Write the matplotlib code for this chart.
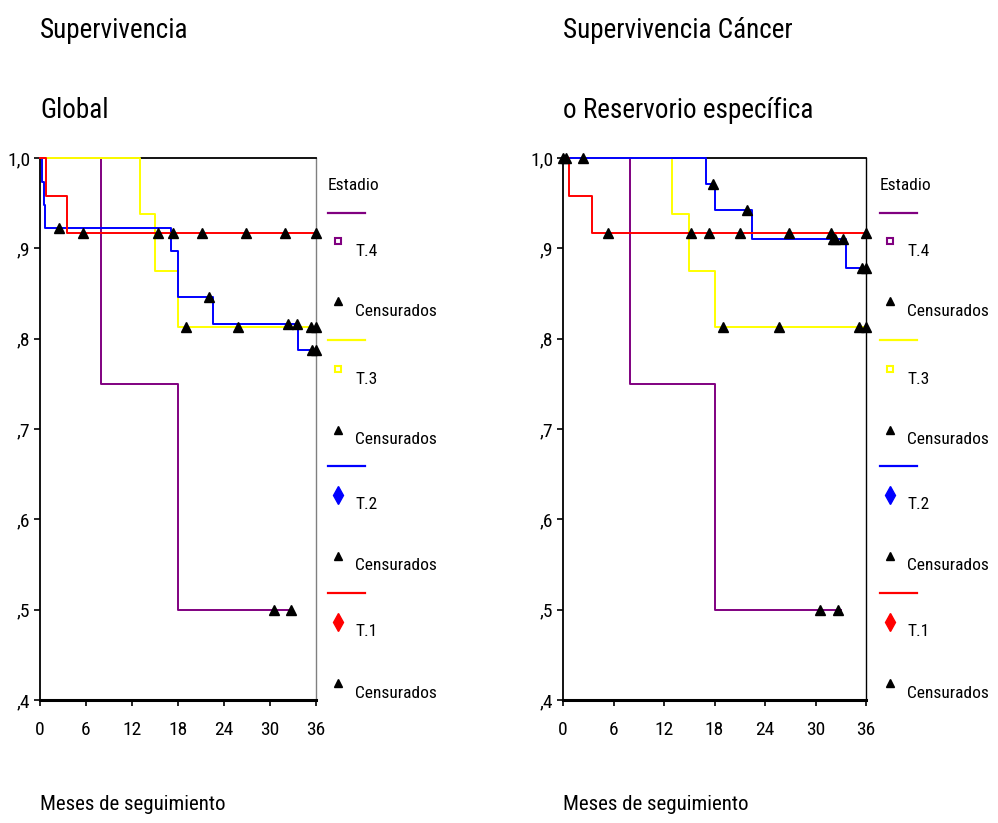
import matplotlib
matplotlib.use("Agg")
import matplotlib.pyplot as plt
import numpy as np
from matplotlib.lines import Line2D
from matplotlib import font_manager as fm

# pick a narrow/condensed sans font if one is installed
narrow_family, narrow_stretch = None, "normal"
for pref in ["Liberation Sans Narrow", "Arial Narrow", "Roboto Condensed", "Open Sans Condensed"]:
    if any(f.name == pref for f in fm.fontManager.ttflist):
        narrow_family = pref
        break
if narrow_family is None:
    for f in fm.fontManager.ttflist:
        if f.stretch in ("condensed", "semi-condensed") and f.name in ("DejaVu Sans", "Roboto", "Open Sans", "Noto Sans") \
                and f.style == "normal" and f.weight in (400, "normal", "regular"):
            narrow_family, narrow_stretch = f.name, f.stretch
            break

if narrow_family is not None:
    plt.rcParams['font.family'] = [narrow_family, 'Liberation Sans', 'DejaVu Sans']
    plt.rcParams['font.stretch'] = narrow_stretch
    FS_TITLE, FS_TICK, FS_LEG, FS_XLAB = 19.5, 14, 12.5, 15
else:
    plt.rcParams['font.family'] = ['Liberation Sans', 'DejaVu Sans']
    FS_TITLE, FS_TICK, FS_LEG, FS_XLAB = 16.5, 12.5, 11, 13

# ---------------- data ----------------
groups = ["T.4", "T.3", "T.2", "T.1"]
colors = {"T.4": "#800080", "T.3": "#FFFF00", "T.2": "#0000FF", "T.1": "#FF0000"}
legend_markers = {"T.4": "s", "T.3": "s", "T.2": "D", "T.1": "D"}

# Supervivencia Global
g_t4_time = [0, 8, 18, 33]
g_t4_surv = [1.0, 0.75, 0.5, 0.5]
g_t4_cens = [30.5, 32.7]
g_t3_time = [0, 13, 15, 18, 36]
g_t3_surv = [1.0, 0.9375, 0.875, 0.8125, 0.8125]
g_t3_cens = [19.1, 25.8, 35.3, 36]
g_t2_time = [0, 0.2, 0.55, 0.65, 17.1, 18.0, 22.5, 33.7, 36]
g_t2_surv = [1.0, 0.973, 0.948, 0.923, 0.897, 0.846, 0.816, 0.787, 0.787]
g_t2_cens = [2.5, 22.0, 32.3, 33.5, 35.5, 36]
g_t1_time = [0, 0.75, 3.5, 36]
g_t1_surv = [1.0, 0.958, 0.917, 0.917]
g_t1_cens = [5.6, 15.4, 17.3, 21.1, 26.9, 31.9, 36]

# Supervivencia Cancer especifica
c_t4_time = [0, 8, 18, 33]
c_t4_surv = [1.0, 0.75, 0.5, 0.5]
c_t4_cens = [30.5, 32.7]
c_t3_time = [0, 13, 15, 18, 36]
c_t3_surv = [1.0, 0.9375, 0.875, 0.8125, 0.8125]
c_t3_cens = [19.0, 25.7, 35.2, 36]
c_t2_time = [0, 17.0, 18.1, 22.4, 33.6, 36]
c_t2_surv = [1.0, 0.971, 0.942, 0.910, 0.878, 0.878]
c_t2_cens = [0.0, 0.4, 2.4, 17.8, 21.9, 32.1, 32.3, 33.3, 35.5, 36]
c_t1_time = [0, 0.75, 3.5, 36]
c_t1_surv = [1.0, 0.958, 0.917, 0.917]
c_t1_cens = [5.4, 15.2, 17.3, 21.0, 26.9, 31.8, 36]

x_ticks = [0, 6, 12, 18, 24, 30, 36]
y_ticks = [0.4, 0.5, 0.6, 0.7, 0.8, 0.9, 1.0]
y_ticklabels = [",4", ",5", ",6", ",7", ",8", ",9", "1,0"]

global_data = {
    "T.4": (g_t4_time, g_t4_surv, g_t4_cens),
    "T.3": (g_t3_time, g_t3_surv, g_t3_cens),
    "T.2": (g_t2_time, g_t2_surv, g_t2_cens),
    "T.1": (g_t1_time, g_t1_surv, g_t1_cens),
}
cancer_data = {
    "T.4": (c_t4_time, c_t4_surv, c_t4_cens),
    "T.3": (c_t3_time, c_t3_surv, c_t3_cens),
    "T.2": (c_t2_time, c_t2_surv, c_t2_cens),
    "T.1": (c_t1_time, c_t1_surv, c_t1_cens),
}

W, H = 998, 823
fig = plt.figure(figsize=(W / 100, H / 100), dpi=100)


def step_value(times, surv, t):
    idx = np.searchsorted(times, t, side="right") - 1
    return np.asarray(surv)[idx]


def draw_panel(left_px, right_px, data, title1, title2, right_spine_color):
    ax = fig.add_axes([left_px / W, 1 - 700 / H, (right_px - left_px) / W, 542 / H])
    for g in groups:
        t, s, c = data[g]
        ax.step(t, s, where="post", color=colors[g], lw=1.4, zorder=3, clip_on=False)
        cy = [step_value(t, s, ci) for ci in c]
        ax.plot(c, cy, linestyle="none", marker="^", color="black", markersize=7,
                zorder=4, clip_on=False)
    ax.set_xlim(0, 36)
    ax.set_ylim(0.4, 1.0)
    ax.set_xticks(x_ticks)
    ax.set_xticklabels([str(v) for v in x_ticks], fontsize=FS_TICK)
    ax.set_yticks(y_ticks)
    ax.set_yticklabels(y_ticklabels, fontsize=FS_TICK)
    ax.tick_params(axis="both", direction="out", length=4, width=1.2, colors="black")
    ax.tick_params(axis="x", pad=11)
    ax.tick_params(axis="y", pad=3)
    ax.spines["left"].set_linewidth(1.3)
    ax.spines["bottom"].set_linewidth(2.2)
    ax.spines["top"].set_linewidth(1.3)
    ax.spines["right"].set_linewidth(1.0)
    ax.spines["right"].set_color(right_spine_color)
    for sp in ax.spines.values():
        sp.set_zorder(1)
    fig.text(left_px / W, 1 - 30 / H, title1, fontsize=FS_TITLE, ha="left", va="center")
    fig.text(left_px / W, 1 - 110 / H, title2, fontsize=FS_TITLE, ha="left", va="center")
    fig.text(left_px / W, 1 - 805 / H, "Meses de seguimiento", fontsize=FS_XLAB, ha="left", va="center")
    return ax


def draw_legend(x0_px):
    fig.text(x0_px / W, 1 - 185 / H, "Estadio", fontsize=FS_LEG, ha="left", va="center")
    rows = [
        ("T.4", 213, 245, 305),
        ("T.3", 340, 373, 434),
        ("T.2", 466, 499, 560),
        ("T.1", 593, 626, 687),
    ]
    for g, yl, ym, yc in rows:
        fig.add_artist(Line2D([x0_px / W, (x0_px + 37) / W], [1 - yl / H, 1 - yl / H],
                              color=colors[g], lw=1.6, transform=fig.transFigure))
        mk = legend_markers[g]
        if mk == "s":
            fig.add_artist(Line2D([(x0_px + 10) / W], [1 - (ym - 4) / H], marker="s",
                                  markersize=5, markerfacecolor="white",
                                  markeredgecolor=colors[g], markeredgewidth=1.5,
                                  linestyle="none", transform=fig.transFigure))
        else:
            fig.add_artist(Line2D([(x0_px + 10) / W], [1 - (ym - 4) / H], marker="d",
                                  markersize=9, color=colors[g],
                                  linestyle="none", transform=fig.transFigure))
        fig.text((x0_px + 27) / W, 1 - (ym + 6) / H, g, fontsize=FS_LEG, ha="left", va="center")
        fig.add_artist(Line2D([(x0_px + 10) / W], [1 - (yc - 4) / H], marker="^",
                              markersize=6, color="black", linestyle="none",
                              transform=fig.transFigure))
        fig.text((x0_px + 27) / W, 1 - (yc + 6) / H, "Censurados", fontsize=FS_LEG,
                 ha="left", va="center")


draw_panel(40, 316, global_data, "Supervivencia", "Global", "#808080")
draw_panel(563, 866, cancer_data, "Supervivencia Cáncer", "o Reservorio específica", "black")
draw_legend(328)
draw_legend(880)

fig.savefig("out.png", dpi=100)
